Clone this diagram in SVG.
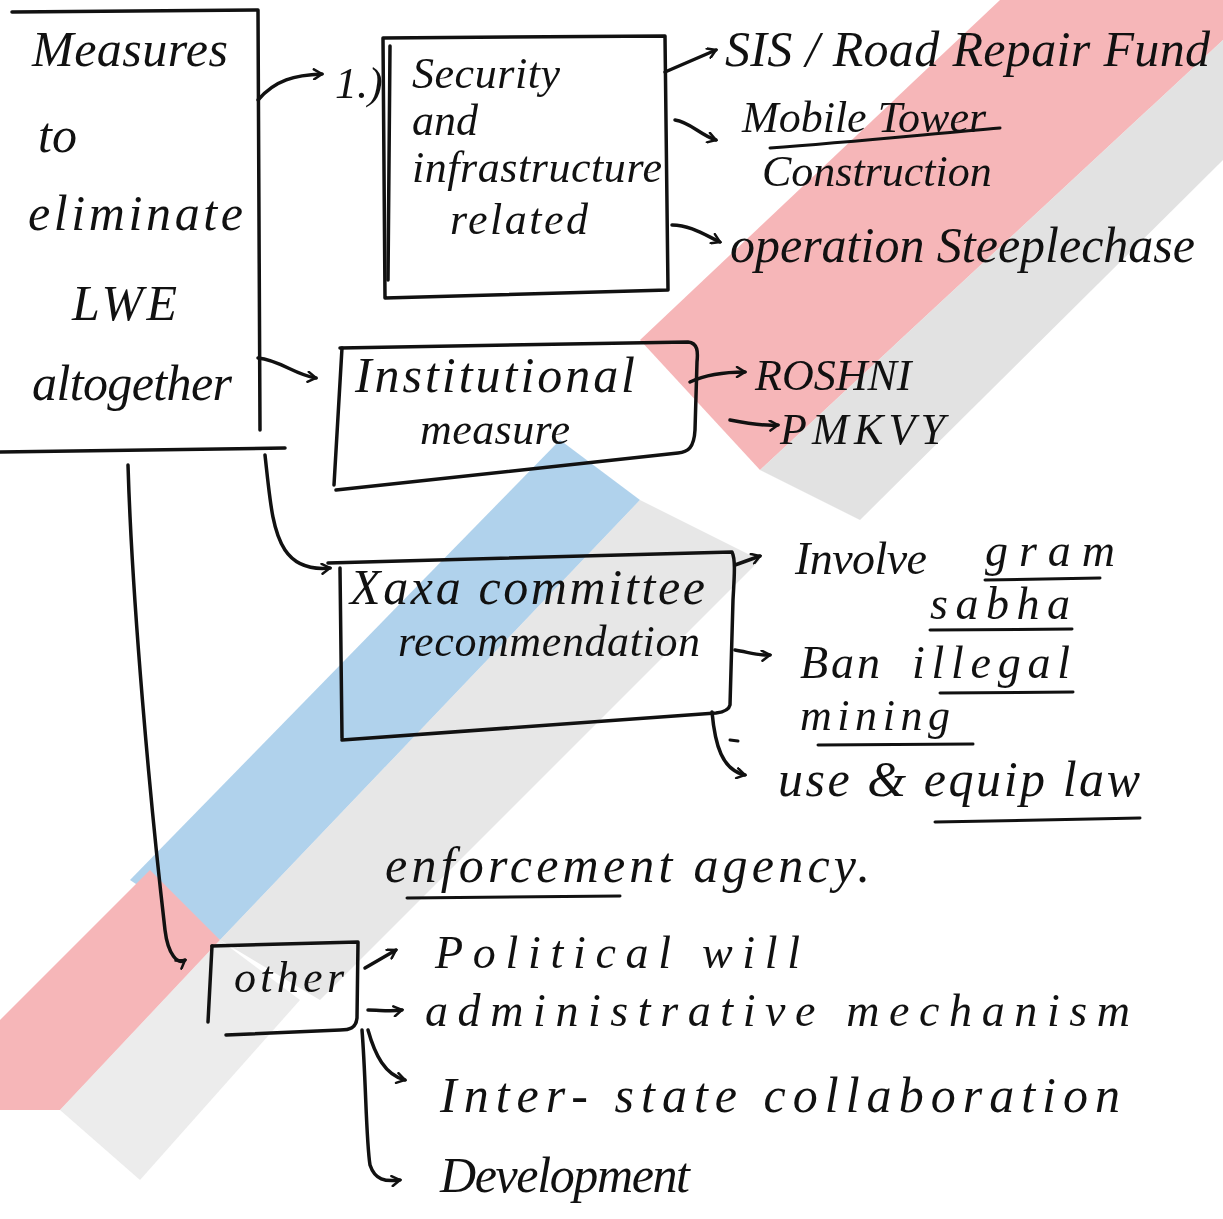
<svg xmlns="http://www.w3.org/2000/svg" width="1223" height="1219" viewBox="0 0 1223 1219">
<defs>
<style>
.t{font-family:"Liberation Serif","DejaVu Serif",serif;font-style:italic;fill:#111;font-size:44px}
.b{font-size:50px}
.m{font-size:46px}
.s{fill:none;stroke:#111;stroke-width:3.5;stroke-linecap:round;stroke-linejoin:round}
.u{fill:none;stroke:#111;stroke-width:3;stroke-linecap:round}
</style>
<marker id="arr" viewBox="0 0 12 12" refX="10" refY="6" markerWidth="12" markerHeight="12" markerUnits="userSpaceOnUse" orient="auto">
<path d="M2,1 L10,6 L2,11" fill="none" stroke="#111" stroke-width="2.5" stroke-linecap="round"/>
</marker>
</defs>
<rect width="1223" height="1219" fill="#ffffff"/>
<g id="watermark" opacity="0.4">
<polygon points="640,340 1000,0 1223,0 1223,40 760,470" fill="#e84a4f"/>
<polygon points="760,470 1223,40 1223,160 860,520" fill="#9a9a9a" opacity="0.7"/>
<polygon points="130,880 560,440 640,500 220,940" fill="#3b8fd0"/>
<polygon points="220,940 640,500 760,560 320,1000" fill="#9a9a9a" opacity="0.6"/>
<polygon points="0,1020 150,870 220,940 60,1110 0,1110" fill="#e84a4f"/>
<polygon points="60,1110 220,940 300,1000 140,1180" fill="#a0a0a0" opacity="0.5"/>
</g>
<g id="connectors">
<path class="s" d="M258,100 C275,80 295,75 322,74" marker-end="url(#arr)"/>
<path class="s" d="M258,358 C280,360 295,375 316,378" marker-end="url(#arr)"/>
<path class="s" d="M265,455 C270,500 272,530 285,550 C295,565 310,570 330,568" marker-end="url(#arr)"/>
<path class="s" d="M128,465 C132,600 150,800 165,930 C168,955 178,965 185,960" marker-end="url(#arr)"/>
<path class="s" d="M665,72 L716,50" marker-end="url(#arr)"/>
<path class="s" d="M675,120 C690,122 700,135 716,140" marker-end="url(#arr)"/>
<path class="s" d="M672,225 C690,225 705,235 720,242" marker-end="url(#arr)"/>
<path class="s" d="M690,382 C705,375 725,372 745,372" marker-end="url(#arr)"/>
<path class="s" d="M730,420 C750,424 765,426 778,425" marker-end="url(#arr)"/>
<path class="s" d="M735,565 L760,556" marker-end="url(#arr)"/>
<path class="s" d="M735,650 C748,652 758,656 770,655" marker-end="url(#arr)"/>
<path class="s" d="M712,712 C715,745 722,770 745,775" marker-end="url(#arr)"/>
<path class="s" d="M365,968 L396,950" marker-end="url(#arr)"/>
<path class="s" d="M368,1010 C380,1010 390,1012 402,1010" marker-end="url(#arr)"/>
<path class="s" d="M368,1030 C375,1055 385,1075 405,1080" marker-end="url(#arr)"/>
<path class="s" d="M362,1030 C366,1080 366,1140 370,1165 C375,1180 385,1182 400,1180" marker-end="url(#arr)"/>
</g>
<g id="node-main">
<path class="s" d="M12,12 L258,10 L260,430"/>
<path class="s" d="M0,452 L285,448"/>
<text class="t b" x="32" y="66" textLength="196" lengthAdjust="spacing">Measures</text>
<text class="t b" x="38" y="152">to</text>
<text class="t b" x="28" y="230" textLength="215" lengthAdjust="spacing">eliminate</text>
<text class="t b" x="72" y="320" textLength="105" lengthAdjust="spacing">LWE</text>
<text class="t b" x="32" y="400" textLength="200" lengthAdjust="spacing">altogether</text>
</g>
<g id="node-security">
<text class="t" x="335" y="98">1.)</text>
<path class="s" d="M390,46 L388,280"/>
<path class="s" d="M383,38 L665,36 L668,290 L385,298 L383,38"/>
<text class="t" x="412" y="88" textLength="148" lengthAdjust="spacing">Security</text>
<text class="t" x="412" y="135">and</text>
<text class="t" x="412" y="182" textLength="250" lengthAdjust="spacing">infrastructure</text>
<text class="t" x="450" y="234" textLength="138" lengthAdjust="spacing">related</text>
</g>
<g id="node-security-items">
<text class="t b" x="725" y="66" textLength="485" lengthAdjust="spacing">SIS / Road Repair Fund</text>
<text class="t" x="742" y="132">Mobile Tower</text>
<path class="u" d="M770,148 C850,142 930,134 1000,128"/>
<text class="t" x="762" y="186">Construction</text>
<text class="t b" x="730" y="262" textLength="465" lengthAdjust="spacing">operation Steeplechase</text>
</g>
<g id="node-institutional">
<path class="s" d="M340,348 L688,342 C698,343 698,352 697,362 L695,430 C694,448 688,452 678,453 L336,490"/>
<path class="s" d="M342,348 L334,485"/>
<text class="t b" x="355" y="392" textLength="280" lengthAdjust="spacing">Institutional</text>
<text class="t" x="420" y="444" textLength="150" lengthAdjust="spacing">measure</text>
</g>
<g id="node-institutional-items">
<text class="t" x="755" y="390">ROSHNI</text>
<text class="t" x="780" y="444" textLength="165" lengthAdjust="spacing">PMKVY</text>
</g>
<g id="node-xaxa">
<path class="s" d="M328,563 L732,552 C736,560 734,580 733,600 L730,705 C729,710 724,712 716,713 L342,740"/>
<path class="s" d="M340,568 L342,738"/>
<text class="t b" x="350" y="604" textLength="355" lengthAdjust="spacing">Xaxa  committee</text>
<text class="t" x="398" y="656" textLength="302" lengthAdjust="spacing">recommendation</text>
</g>
<g id="node-xaxa-items">
<text class="t m" x="795" y="574" textLength="132" lengthAdjust="spacing">Involve</text>
<text class="t m" x="985" y="566" textLength="130" lengthAdjust="spacing">gram</text>
<path class="u" d="M985,580 L1100,578"/>
<text class="t m" x="930" y="619" textLength="140" lengthAdjust="spacing">sabha</text>
<path class="u" d="M930,630 L1072,629"/>
<text class="t m" x="800" y="678" textLength="80" lengthAdjust="spacing">Ban</text>
<text class="t m" x="912" y="678" textLength="158" lengthAdjust="spacing">illegal</text>
<path class="u" d="M940,693 L1073,692"/>
<text class="t" x="800" y="730" textLength="150" lengthAdjust="spacing">mining</text>
<path class="u" d="M818,745 L973,744"/>
<path class="u" d="M730,740 L738,741"/>
<text class="t b" x="778" y="796" textLength="362" lengthAdjust="spacing">use &amp; equip  law</text>
<path class="u" d="M935,822 L1140,818"/>
<text class="t b" x="385" y="882" textLength="485" lengthAdjust="spacing">enforcement   agency.</text>
<path class="u" d="M407,898 L620,896"/>
</g>
<g id="node-other">
<path class="s" d="M212,946 L358,942 L357,1018 C356,1028 350,1030 340,1030 L226,1035"/>
<path class="s" d="M212,946 L208,1022"/>
<text class="t" x="234" y="992" textLength="110" lengthAdjust="spacing">other</text>
</g>
<g id="node-other-items">
<text class="t m" x="435" y="968" textLength="365" lengthAdjust="spacing">Political  will</text>
<text class="t m" x="425" y="1026" textLength="705" lengthAdjust="spacing">administrative  mechanism</text>
<text class="t b" x="440" y="1112" textLength="680" lengthAdjust="spacing">Inter- state   collaboration</text>
<text class="t b" x="440" y="1192" textLength="250" lengthAdjust="spacing">Development</text>
</g>
</svg>
